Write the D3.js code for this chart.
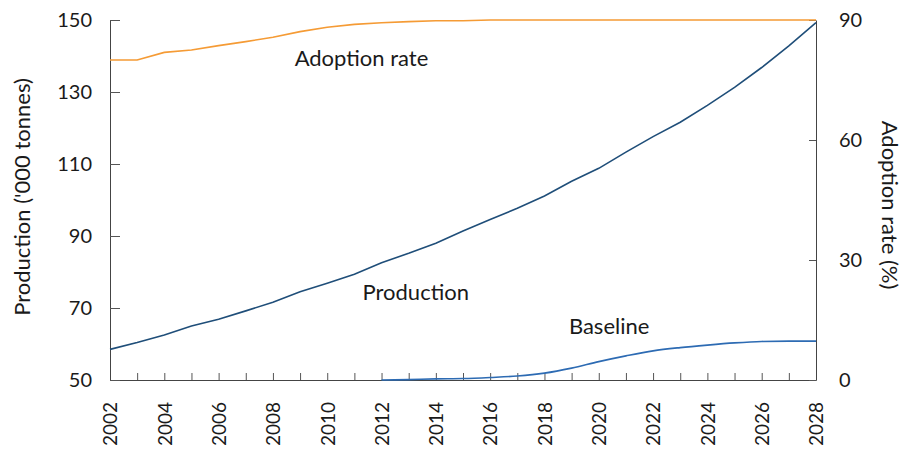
<!DOCTYPE html>
<meta charset="utf-8">
<script src="https://d3js.org/d3.v7.min.js"></script>
<style>
  body { margin: 0; background: #fff; }
  text { font-family: Lato, "Open Sans", sans-serif; fill: #1a1a1a; }
</style>
<div id="chart"></div>
<script>

// data
var years = d3.range(2002, 2029);
var production = [58.5, 60.4, 62.5, 65.0, 66.9, 69.2, 71.6, 74.5, 76.9, 79.4, 82.6, 85.2,
                  88.0, 91.4, 94.6, 97.7, 101.1, 105.2, 108.8, 113.3, 117.6, 121.6, 126.3,
                  131.3, 136.8, 142.8, 149.3];
var baselineYears = d3.range(2012, 2029);
var baseline = [50.0, 50.1, 50.3, 50.4, 50.7, 51.1, 51.9, 53.3, 55.1, 56.7, 58.1, 59.0,
                59.7, 60.3, 60.7, 60.8, 60.8];
var adoption = [80.0, 80.0, 81.9, 82.5, 83.6, 84.6, 85.7, 87.1, 88.2, 88.9, 89.3, 89.6,
                89.8, 89.8, 90, 90, 90, 90, 90, 90, 90, 90, 90, 90, 90, 90, 90];
var leftTicks = [50, 70, 90, 110, 130, 150];
var rightTicks = [0, 30, 60, 90];

var margin = {top: 20, right: 93, bottom: 72, left: 110},
    width = 909 - margin.left - margin.right,
    height = 452 - margin.top - margin.bottom;

var svg = d3.select("#chart")
  .append("svg")
    .attr("width", 909)
    .attr("height", 452)
  .append("g")
    .attr("transform", "translate(" + margin.left + "," + margin.top + ")");

var x = d3.scaleLinear().domain([2002, 2028]).range([0, width]);
var y = d3.scaleLinear().domain([50, 150]).range([height, 0]);
var y2 = d3.scaleLinear().domain([0, 90]).range([height, 0]);

// axes
var xAxis = svg.append("g")
  .attr("transform", "translate(0," + height + ")")
  .call(d3.axisBottom(x)
    .tickValues(years)
    .tickSize(-7)
    .tickSizeOuter(0)
    .tickFormat(function(d) { return d % 2 === 0 ? d : ""; }));
xAxis.selectAll("text")
  .attr("transform", "rotate(-90)")
  .attr("text-anchor", "end")
  .attr("x", -22)
  .attr("y", 0)
  .attr("dy", "0.36em")
  .style("font-size", "19px");

var yAxis = svg.append("g")
  .call(d3.axisLeft(y).tickValues(leftTicks).tickSize(-10).tickSizeOuter(0).tickPadding(18));
yAxis.selectAll("text").style("font-size", "20px");

var y2Axis = svg.append("g")
  .attr("transform", "translate(" + width + ",0)")
  .call(d3.axisRight(y2).tickValues(rightTicks).tickSize(-7).tickSizeOuter(0).tickPadding(23));
y2Axis.selectAll("text").style("font-size", "20px");

svg.selectAll(".domain").attr("stroke", "#444");
svg.selectAll(".tick line").attr("stroke", "#555");

// axis titles
svg.append("text")
  .attr("transform", "rotate(-90)")
  .attr("x", -height / 2 + 3)
  .attr("y", -80)
  .attr("text-anchor", "middle")
  .style("font-size", "22px")
  .text("Production ('000 tonnes)");

svg.append("text")
  .attr("transform", "translate(" + (width + 66) + "," + (height / 2 + 5) + ") rotate(90)")
  .attr("text-anchor", "middle")
  .style("font-size", "22px")
  .text("Adoption rate (%)");

// lines
var lineLeft = d3.line()
  .x(function(d) { return x(d[0]); })
  .y(function(d) { return y(d[1]); });
var lineRight = d3.line()
  .x(function(d) { return x(d[0]); })
  .y(function(d) { return y2(d[1]); });

svg.append("path")
  .datum(years.map(function(yr, i) { return [yr, adoption[i]]; }))
  .attr("fill", "none")
  .attr("stroke", "#f59b35")
  .attr("stroke-width", 1.6)
  .attr("d", lineRight);

svg.append("path")
  .datum(baselineYears.map(function(yr, i) { return [yr, baseline[i]]; }))
  .attr("fill", "none")
  .attr("stroke", "#2d6bb3")
  .attr("stroke-width", 1.6)
  .attr("d", lineLeft.curve(d3.curveMonotoneX));

svg.append("path")
  .datum(years.map(function(yr, i) { return [yr, production[i]]; }))
  .attr("fill", "none")
  .attr("stroke", "#1f4e79")
  .attr("stroke-width", 1.6)
  .attr("d", lineLeft.curve(d3.curveLinear));

// inline labels
svg.append("text").attr("x", x(2008.8)).attr("y", y(137.3)).style("font-size", "22px").text("Adoption rate");
svg.append("text").attr("x", x(2011.3)).attr("y", y(72.3)).style("font-size", "22px").text("Production");
svg.append("text").attr("x", x(2018.9)).attr("y", y(62.9)).style("font-size", "22px").text("Baseline");

</script>
